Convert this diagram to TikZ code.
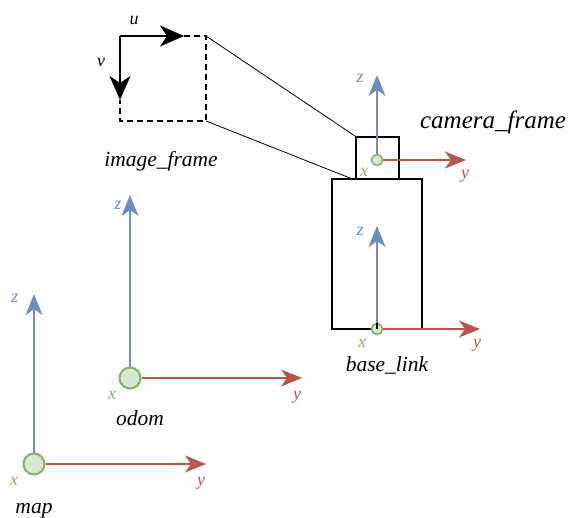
\documentclass[tikz,border=0pt]{standalone}
\usepackage{fontspec}
\setmainfont{Liberation Serif}
\usetikzlibrary{arrows.meta}
\definecolor{zblue}{HTML}{6C8EBF}
\definecolor{yred}{HTML}{B85450}
\definecolor{xgreen}{HTML}{82B366}
\definecolor{xfill}{HTML}{D5E8D4}
\begin{document}
\begin{tikzpicture}[x=1pt,y=-1pt,
  zaxis/.style={draw=zblue,line width=2pt,-{Stealth[length=21pt,width=17pt,inset=6pt]}},
  yaxis/.style={draw=yred,line width=2pt,-{Stealth[length=21pt,width=17pt,inset=6pt]}},
  bigorig/.style={circle,draw=xgreen,fill=xfill,line width=2pt,minimum size=21pt,inner sep=0pt},
  smallorig/.style={circle,draw=xgreen,fill=xfill,line width=1.6pt,minimum size=11pt,inner sep=0pt},
  zlab/.style={text=zblue,font=\itshape\fontsize{18}{18}\selectfont,inner sep=0pt},
  ylab/.style={text=yred,font=\itshape\fontsize{18}{18}\selectfont,inner sep=0pt},
  xlab/.style={text=xgreen,font=\itshape\fontsize{18}{18}\selectfont,inner sep=0pt},
  framelab/.style={font=\itshape\fontsize{21.5}{21.5}\selectfont,inner sep=0pt},
  uvarrow/.style={draw=black,line width=2.4pt,-{Stealth[length=24pt,width=21pt,inset=7pt]}},
  box/.style={draw=black,line width=2pt},
]
\useasboundingbox (0,0) rectangle (570,518);

% image frame
\coordinate (imgtl) at (120,36);
\coordinate (imgtr) at (206,36);
\coordinate (imgbr) at (206,121);
\coordinate (imgbl) at (120,121);
\coordinate (uend) at (184,36);
\coordinate (vend) at (120,100);
\draw[dashed,line width=2pt,dash pattern=on 6pt off 4pt] (uend) -- (imgtr) -- (imgbr) -- (imgbl) -- (vend);
\draw[uvarrow] (imgtl) -- (uend);
\draw[uvarrow] (imgtl) -- (vend);
\node[framelab,font=\itshape\fontsize{18}{18}\selectfont] (ulab) at (134,20) {u};
\node[framelab,font=\itshape\fontsize{18}{18}\selectfont] (vlab) at (101,62) {v};
\node[framelab] (imglab) at (161,161) {image\_frame};

% robot body
\node[box,minimum width=90pt,minimum height=150pt,inner sep=0pt] (base) at (377,254) {};
\node[box,minimum width=43pt,minimum height=42pt,inner sep=0pt] (cam) at (377.5,158) {};
\draw[line width=0.8pt] (imgtr) -- (cam.north west);
\draw[line width=0.8pt] (imgbr) -- (cam.south west);

% camera frame
\node[smallorig] (camo) at (377,160) {};
\coordinate (camz) at (377,75);
\coordinate (camy) at (466,160);
\draw[zaxis] (camo) -- (camz);
\draw[yaxis] (camo) -- (camy);
\node[zlab] (camzl) at (360,78) {z};
\node[ylab] (camyl) at (465,176) {y};
\node[xlab] (camxl) at (364,172) {x};
\node[framelab,font=\itshape\fontsize{25}{25}\selectfont] (camlab) at (493,122) {camera\_frame};

% base link
\node[smallorig] (baseo) at (377,329) {};
\draw[line width=1.2pt] (377,323) -- (baseo.center);
\coordinate (basez) at (377,226);
\coordinate (basey) at (480,329);
\draw[zaxis] (baseo) -- (basez);
\draw[yaxis] (baseo) -- (basey);
\node[zlab] (basezl) at (360,231) {z};
\node[ylab] (baseyl) at (477,345) {y};
\node[xlab] (basexl) at (362,343) {x};
\node[framelab] (baselab) at (387,365) {base\_link};

% odom
\node[bigorig] (odomo) at (130,378) {};
\coordinate (odomz) at (130,195);
\coordinate (odomy) at (302,378);
\draw[zaxis] (odomo) -- (odomz);
\draw[yaxis] (odomo) -- (odomy);
\node[zlab] (odomzl) at (118,205) {z};
\node[ylab] (odomyl) at (297,397) {y};
\node[xlab] (odomxl) at (112,395) {x};
\node[framelab] (odomlab) at (140,418) {odom};

% map
\node[bigorig] (mapo) at (34,464) {};
\coordinate (mapz) at (34,294);
\coordinate (mapy) at (206,464);
\draw[zaxis] (mapo) -- (mapz);
\draw[yaxis] (mapo) -- (mapy);
\node[zlab] (mapzl) at (15,298) {z};
\node[ylab] (mapyl) at (201,483) {y};
\node[xlab] (mapxl) at (14,481) {x};
\node[framelab] (maplab) at (34,511) {map};
\end{tikzpicture}
\end{document}
